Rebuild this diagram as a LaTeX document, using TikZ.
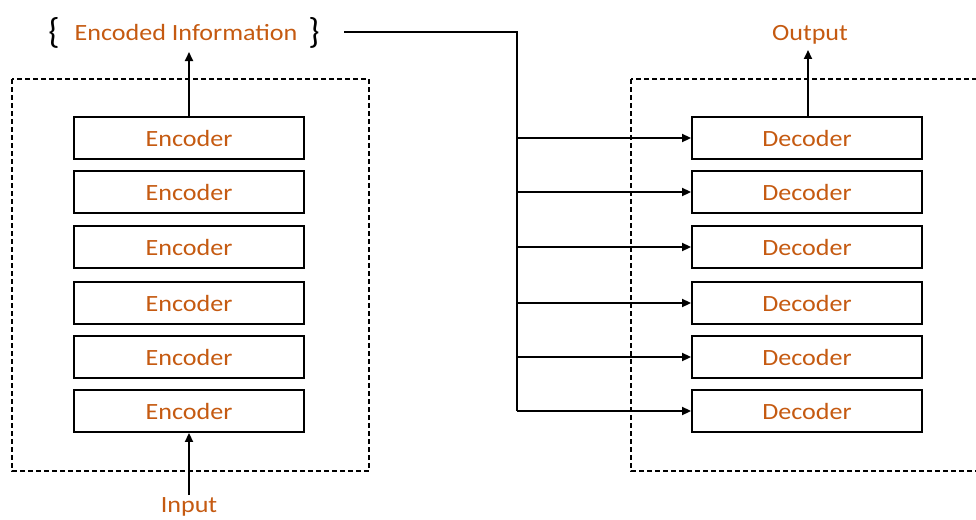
\documentclass[tikz,border=0pt]{standalone}
\usepackage{fontspec}
\setmainfont{Carlito}
\usetikzlibrary{arrows.meta}
\definecolor{txtorange}{RGB}{197,90,17}
\tikzset{
  blk/.style={draw=black, line width=1.9pt, minimum width=230pt, minimum height=42pt, inner sep=0pt,
    font=\fontsize{23.3}{26}\selectfont, text=txtorange},
  lbl/.style={font=\fontsize{23.3}{26}\selectfont, text=txtorange, inner sep=0pt},
  brc/.style={font=\fontsize{36}{36}\selectfont, text=black, inner sep=0pt},
  grp/.style={draw=black, line width=1.2pt, dash pattern=on 5pt off 3pt},
  conn/.style={draw=black, line width=1.9pt},
  arr/.style={conn, -{Triangle[length=9pt,width=8pt]}}
}
\begin{document}
\begin{tikzpicture}[x=1pt,y=-1pt]
\useasboundingbox (0,0) rectangle (976,519);
\clip (0,0) rectangle (976,519);
% group boxes
\draw[grp] (12,79) rectangle (369,471);
\draw[grp] (631,79) rectangle (1000,471);
% encoders and decoders
\foreach \i/\y in {1/138,2/192,3/247,4/303,5/357,6/411}{
  \node[blk] (e\i) at (189,\y) {\scalebox{1.12}[1]{Encoder}};
  \node[blk] (d\i) at (807,\y) {\scalebox{1.12}[1]{Decoder}};
}
% labels
\node[lbl] (enc) at (186,32) {\scalebox{1.12}[1]{Encoded Information}};
\node[brc] (lb) at (54,33) {\{};
\node[brc] (rb) at (314,33) {\}};
\node[lbl] (out) at (810,35) {\scalebox{1.12}[1]{Output}};
\node[lbl] (inp) at (189,507) {\scalebox{1.12}[1]{Input}};
\coordinate (outtip) at (808,50);
\coordinate (enctip) at (189,52);
\coordinate (inbase) at (189,495);
\coordinate (ls) at (344,32);
\coordinate (lc) at (517,32);
% arrows
\draw[arr] (e1.north) -- (enctip);
\draw[arr] (d1.north -| outtip) -- (outtip);
\draw[arr] (inbase) -- (e6.south);
\draw[conn] (ls) -- (lc) -- (lc |- d6.west);
\foreach \i in {1,...,6}{
  \draw[arr] (lc |- d\i.west) -- (d\i.west);
}
\end{tikzpicture}
\end{document}
